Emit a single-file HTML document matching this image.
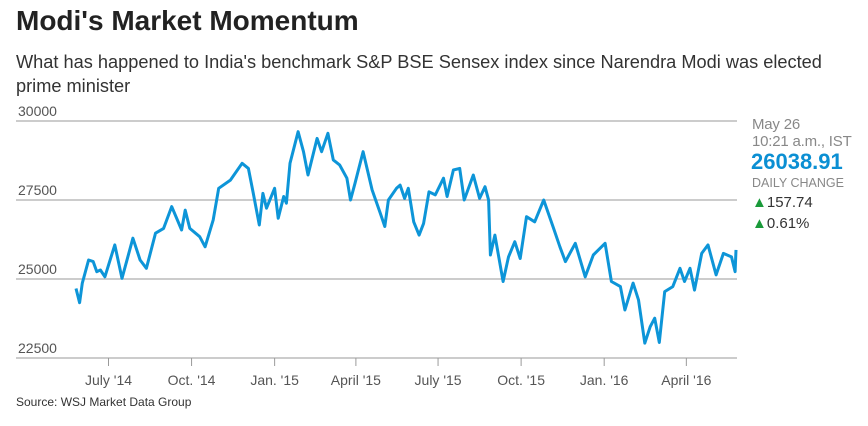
<!DOCTYPE html>
<html><head><meta charset="utf-8"><style>
body{margin:0;width:868px;height:426px;background:#fff;font-family:"Liberation Sans",sans-serif;overflow:hidden;position:relative}
.t{position:absolute;white-space:nowrap}
</style></head><body>
<div class="t" style="left:16px;top:5px;font-size:28px;font-weight:bold;color:#222">Modi's Market Momentum</div>
<div class="t" style="left:16px;top:50px;font-size:18.2px;color:#333;line-height:24px;white-space:normal;width:830px">What has happened to India's benchmark S&amp;P BSE Sensex index since Narendra Modi was elected prime minister</div>
<svg id="chart" width="868" height="426" style="position:absolute;left:0;top:0"></svg>
<div class="t" style="left:16px;top:395px;font-size:12px;color:#333">Source: WSJ Market Data Group</div>
<div class="t" style="left:752px;top:116px;font-size:15px;color:#888;line-height:17px;letter-spacing:-0.2px">May 26<br>10:21 a.m., IST</div>
<div class="t" style="left:751px;top:149px;font-size:22px;font-weight:bold;color:#0b8fd3">26038.91</div>
<div class="t" style="left:752px;top:176px;font-size:12.5px;color:#888">DAILY CHANGE</div>
<div class="t" style="left:752px;top:194px;font-size:15px;color:#333"><span style="color:#1a9a3a">▲</span>157.74</div>
<div class="t" style="left:752px;top:215px;font-size:15px;color:#333"><span style="color:#1a9a3a">▲</span>0.61%</div>
<script>
const days=[0,4,7,14,19,23,27,32,43,51,63,71,78,88,97,106,117,121,126,137,143,152,158,171,184,191,196,203,207,211,220,224,230,233,237,246,252,257,267,272,279,285,292,300,304,309,318,328,337,342,346,355,359,364,368,374,380,385,391,398,407,411,418,425,430,440,447,453,457,459,464,473,479,486,492,499,508,518,529,536,542,553,564,573,586,593,603,608,617,623,630,636,641,646,652,661,669,674,680,685,693,700,709,717,726,730,731];
const values=[24700,24250,24870,25600,25550,25230,25285,25070,26080,25020,26290,25600,25340,26450,26600,27290,26550,27180,26600,26340,26020,26870,27870,28130,28660,28500,27760,26710,27710,27240,27870,26920,27610,27400,28660,29660,29030,28290,29450,29030,29610,28770,28610,28190,27500,28030,29030,27820,27080,26660,27500,27870,27970,27550,27870,26810,26390,26760,27760,27660,28190,27610,28450,28500,27500,28290,27550,27920,27500,25760,26390,24920,25700,26180,25650,26970,26810,27500,26600,26020,25550,26130,25070,25760,26130,24920,24760,24020,24870,24340,22970,23490,23760,22990,24600,24760,25340,24920,25340,24650,25810,26080,25130,25810,25700,25230,25920];
const yTicks=[22500,25000,27500,30000];
const xTickDays=[36,128,220,310,401,493,585,676];
const xTickLabels=["July '14","Oct. '14","Jan. '15","April '15","July '15","Oct. '15","Jan. '16","April '16"];
const svg=document.getElementById('chart');const NS='http://www.w3.org/2000/svg';
const X=d=>76+d*(660/731);
const Y=v=>358-(v-22500)*(237/7500);
function mk(t,a){const e=document.createElementNS(NS,t);for(const k in a)e.setAttribute(k,a[k]);svg.appendChild(e);return e;}
yTicks.forEach(v=>{
 const l=mk('line',{x1:16,x2:737,y1:Y(v),y2:Y(v),stroke:'#9a9a9a','stroke-width':1});
 
 
 const t=mk('text',{x:18,y:Y(v)-5,'font-size':14,fill:'#555','font-family':'Liberation Sans, sans-serif'});
 t.textContent=v;
 
 
});
xTickDays.forEach((d,i)=>{
 const l=mk('line',{x1:X(d),x2:X(d),y1:358,y2:366,stroke:'#9a9a9a','stroke-width':1});
 
 
 const t=mk('text',{x:X(d),y:385,'font-size':14,fill:'#555','text-anchor':'middle','font-family':'Liberation Sans, sans-serif'});
 t.textContent=xTickLabels[i];
 
 
});
const p=mk('path',{d:days.map((d,i)=>(i?'L':'M')+X(d).toFixed(1)+','+Y(values[i]).toFixed(1)).join(''),fill:'none',stroke:'#0d95d8','stroke-width':3,'stroke-linejoin':'round'});


</script>
</body></html>
